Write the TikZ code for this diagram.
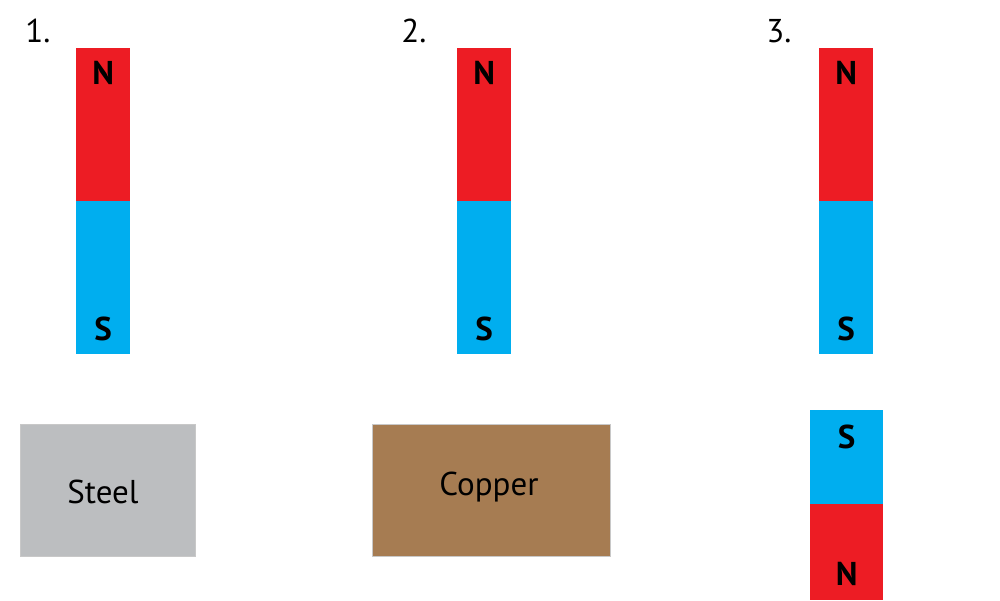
\documentclass[tikz,border=0pt]{standalone}
\usepackage{fontspec}
\setmainfont{PT Sans}
\usetikzlibrary{positioning}
\definecolor{northred}{HTML}{ED1C24}
\definecolor{southblue}{HTML}{00AEEF}
\definecolor{steelgray}{HTML}{BCBEC0}
\definecolor{copperbrown}{HTML}{A67C52}
\definecolor{edgegray}{HTML}{C8C8C8}
\tikzset{
  half/.style={draw=none,fill=#1,minimum width=54pt,minimum height=153pt,inner sep=0pt,anchor=north west},
  pole/.style={font=\fontsize{33}{33}\selectfont\bfseries,inner sep=0pt},
  block/.style={draw=edgegray,line width=0.8pt,fill=#1,inner sep=0pt,anchor=north west,minimum height=132pt,font=\fontsize{33}{33}\selectfont},
  step label/.style={font=\fontsize{33}{33}\selectfont,inner sep=0pt}
}
\begin{document}
\begin{tikzpicture}[x=1pt,y=-1pt]
  \useasboundingbox (0,0) rectangle (1000,600);
  % the three magnets on top
  \foreach \n/\x/\lx/\t in {1/76/38/1., 2/457/414/2., 3/819/779/3.}{
    \node[half=northred] (n\n) at (\x,48) {};
    \node[half=southblue,below=-0.3pt of n\n] (s\n) {};
    \node[pole,below=13pt of n\n.north] {N};
    \node[pole,above=13pt of s\n.south] {S};
    \node[step label] at (\lx,31) {\t};
  }
  % the blocks under them
  \node[block=steelgray,minimum width=175pt] (steel) at (20,424) {};
  \node[step label] at (103,492) {Steel};
  \node[block=copperbrown,minimum width=238pt] (copper) at (372,424) {};
  \node[step label] at (489,487) {Copper};
  % magnet turned over
  \node[half=southblue,minimum width=73pt,minimum height=94pt] (s4) at (810,410) {};
  \node[half=northred,minimum width=73pt,minimum height=96pt,below=-0.3pt of s4] (n4) {};
  \node[pole,below=15pt of s4.north] {S};
  \node[pole,above=15pt of n4.south] {N};
\end{tikzpicture}
\end{document}
